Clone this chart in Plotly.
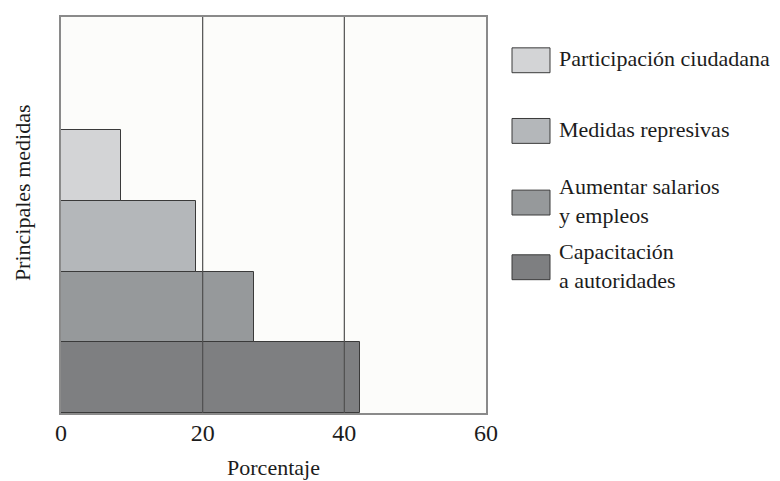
import plotly.graph_objects as go

categories = ["Capacitación<br>a autoridades", "Aumentar salarios<br>y empleos",
              "Medidas represivas", "Participación ciudadana"]
values = [42.2, 27.3, 19.1, 8.5]
colors = ["#7e7f81", "#96999b", "#b4b7ba", "#d3d4d6"]
legend_order = [3, 2, 1, 0]
x_ticks = [0, 20, 40, 60]
grid_at = [20, 40]

FONT = "Liberation Serif, Times New Roman, serif"
TXT = "#1c1c1c"
OFF = 8  # page body offset
fig = go.Figure()
for i, (c, v, col) in enumerate(zip(categories, values, colors)):
    fig.add_trace(go.Bar(
        x=[v], y=[i], orientation="h", width=1, base=0,
        marker=dict(color=col, line=dict(color="#3a3a3a", width=1)),
        name=c, showlegend=False))

shapes = []
for g in grid_at:
    shapes.append(dict(type="line", xref="x", yref="paper", x0=g, x1=g, y0=0, y1=1,
                       line=dict(color="#505050", width=1.2), layer="above"))

# target pixel geometry of the plot area (in screen coords)
PL, PR, PT, PB = 61, 486, 15, 413
pw, ph = PR - PL, PB - PT

def px_x(x):
    return (x - PL) / pw

def px_y(y):
    return (PB - y) / ph

annotations = []
box_tops = [46, 117, 189, 254]
for k, idx in enumerate(legend_order):
    y0px = box_tops[k]
    y1px = y0px + 25
    shapes.append(dict(type="rect", xref="paper", yref="paper",
                       x0=px_x(512), x1=px_x(550),
                       y0=px_y(y1px), y1=px_y(y0px),
                       fillcolor=colors[idx], line=dict(color="#3a3a3a", width=1)))
    annotations.append(dict(xref="paper", yref="paper",
                            x=px_x(557), y=px_y(y0px + 11),
                            text=categories[idx], showarrow=False, xanchor="left",
                            yanchor="middle", align="left",
                            font=dict(family=FONT, size=22, color=TXT)))

annotations.append(dict(xref="paper", yref="paper", x=px_x(22), y=px_y(192),
                        text="Principales medidas", textangle=-90, showarrow=False,
                        xanchor="center", yanchor="middle",
                        font=dict(family=FONT, size=22, color=TXT)))

fig.update_layout(
    width=780, height=481,
    margin=dict(l=PL - OFF, r=780 - (PR - OFF), t=PT - OFF, b=481 - (PB - OFF)),
    paper_bgcolor="white", plot_bgcolor="#fcfcfa",
    bargap=0, showlegend=False,
    shapes=shapes, annotations=annotations,
    xaxis=dict(range=[0, 60], tickvals=x_ticks, showgrid=False, zeroline=False,
               showline=True, linecolor="#8a8a8a", linewidth=1.5, mirror=True,
               ticks="", ticklabelstandoff=-3,
               tickfont=dict(family=FONT, size=24, color=TXT),
               title=dict(text="Porcentaje", font=dict(family=FONT, size=22, color=TXT),
                          standoff=15)),
    yaxis=dict(range=[-0.5, 5.1], showticklabels=False, showgrid=False, zeroline=False,
               showline=True, linecolor="#8a8a8a", linewidth=1.5, mirror=True, ticks=""),
)
fig.write_html("out.html")
